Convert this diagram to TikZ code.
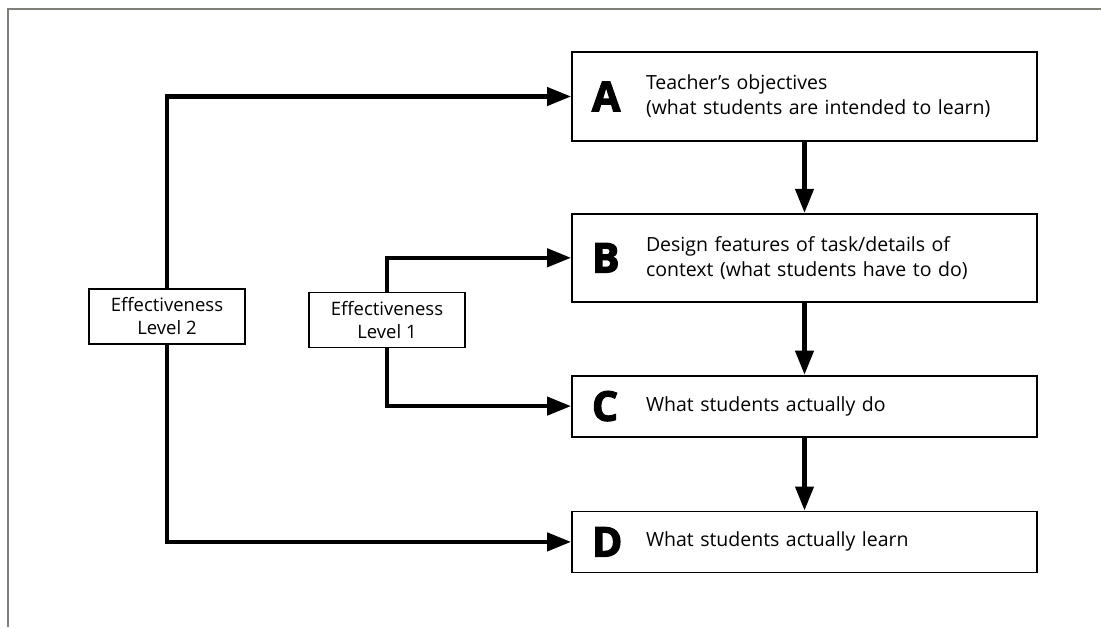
\documentclass[tikz,border=0pt]{standalone}
\usepackage{fontspec}
\setmainfont{Open Sans}
\newfontfamily\letterfont{Open Sans}[BoldFeatures={FakeBold=3}]
\usepackage{xcolor}
\usetikzlibrary{arrows.meta,positioning}
\definecolor{framegray}{RGB}{128,128,120}
\newcommand{\Tag}[1]{\parbox[c]{54pt}{\fontsize{41}{41}\letterfont\bfseries #1}}

\begin{document}
\begin{tikzpicture}[x=1pt, y=1pt, every node/.style={font=\fontsize{19.5}{25}\selectfont}, stage/.style={draw, line width=1.8pt, inner xsep=20pt, inner ysep=0pt, text width=425pt, align=left}, level/.style={draw, line width=1.8pt, minimum width=156pt, minimum height=55pt, inner sep=2pt, align=center, font=\fontsize{18.5}{23}\selectfont}, arr/.style={-{Triangle[length=24pt, width=18pt]}, line width=4.2pt}]
\useasboundingbox (0,0) rectangle (1101,-627);
\draw[framegray, line width=2pt] (8,-627) -- (8,-9) -- (1101,-9);
\node[stage, minimum height=89pt] (a) at (804.5,-96.5) {\Tag{A}\parbox[c]{370pt}{Teacher's objectives\\(what students are intended to learn)}};
\node[stage, minimum height=88pt, below=71pt of a] (b) {\Tag{B}\parbox[c]{370pt}{Design features of task/details of\\context (what students have to do)}};
\node[stage, minimum height=61pt, below=72pt of b] (c) {\Tag{C}\parbox[c]{370pt}{What students actually do}};
\node[stage, minimum height=61pt, below=73pt of c] (d) {\Tag{D}\parbox[c]{370pt}{What students actually learn}};
\node[level] (lvtwo) at (167,-316.5) {Effectiveness\\Level 2};
\node[level] (lvone) at (387,-320) {Effectiveness\\Level 1};
\draw[arr] (a) -- (b);
\draw[arr] (b) -- (c);
\draw[arr] (c) -- (d);
\draw[arr] (lvtwo.north) |- (a.west);
\draw[arr] (lvtwo.south) |- (d.west);
\draw[arr] (lvone.north) |- (b.west);
\draw[arr] (lvone.south) |- (c.west);
\end{tikzpicture}
\end{document}
